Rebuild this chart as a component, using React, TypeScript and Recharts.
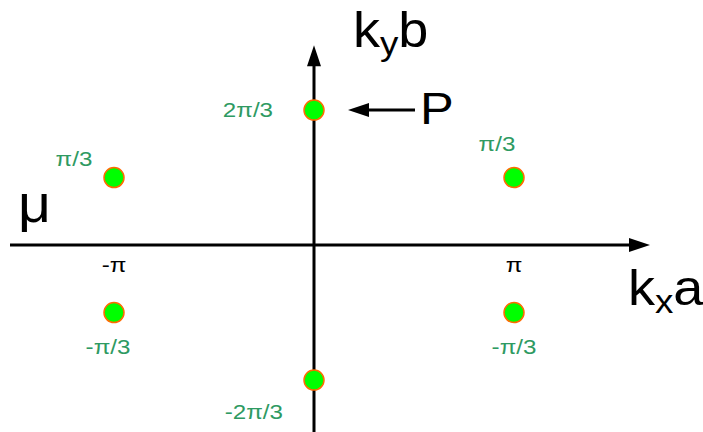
import { ScatterChart, Scatter, XAxis, YAxis, ReferenceLine } from "recharts";

// kx·a in units of π, ky·b in units of π/3
const pointX = [-1, 1, 0, -1, 1, 0];
const pointY = [1, 1, 2, -1, -1, -2];
const pointLabels = ["π/3", "π/3", "2π/3", "-π/3", "-π/3", "-2π/3"];

const tickX = [-1, 1];
const tickLabels = ["-π", "π"];

// label placement around each dot (px): dx, dy, anchor
const LABEL_POS: [number, number, "start" | "middle" | "end"][] = [
  [-40, -12, "middle"],
  [-17, -27, "middle"],
  [-41, 7, "end"],
  [-6, 41, "middle"],
  [0, 41, "middle"],
  [-31, 39, "end"],
];

const W = 703;
const H = 432;
const X_DOMAIN = [-1.57, 1.945];
const Y_DOMAIN = [-2.77, 3.63];
const GREEN = "#2e9a62";
const FONT = "'Liberation Sans', Arial, sans-serif";

const points = pointX.map((x, i) => ({ x, y: pointY[i], label: pointLabels[i], i }));
const ticks = tickX.map((x, i) => ({ x, y: 0, label: tickLabels[i] }));

// arrow heads: position of the tip and pointing direction
const arrows = [
  { x: 1.68, y: 0, dir: "right" },
  { x: 0, y: 2.96, dir: "up" },
  { x: 0.17, y: 2, dir: "left" },
];

const titles = [
  { x: 0.195, y: 2.93, kind: "kyb" },
  { x: 1.57, y: -0.89, kind: "kxa" },
  { x: -1.48, y: 0.34, kind: "mu" },
  { x: 0.53, y: 1.8, kind: "P" },
];

const Dot = (props: any) => {
  const { cx, cy, payload } = props;
  const [dx, dy, anchor] = LABEL_POS[payload.i];
  const tx = cx + dx;
  return (
    <g>
      <circle cx={cx} cy={cy} r={10} fill="#00ff00" stroke="#ff6a00" strokeWidth={1.5} />
      <g transform={`translate(${tx},${cy + dy}) scale(1.15,1)`}>
        <text x={0} y={0} textAnchor={anchor} fontSize={21} fill={GREEN} fontFamily={FONT}>
          {payload.label}
        </text>
      </g>
    </g>
  );
};

const Tick = (props: any) => {
  const { cx, cy, payload } = props;
  return (
    <g transform={`translate(${cx},${cy + 27}) scale(1.15,1)`}>
      <text x={0} y={0} textAnchor="middle" fontSize={21} fill="#000" fontFamily={FONT}>
        {payload.label}
      </text>
    </g>
  );
};

const Arrow = (props: any) => {
  const { cx, cy, payload } = props;
  const len = 21;
  const half = 7;
  let pts = "";
  if (payload.dir === "right") pts = `${cx},${cy} ${cx - len},${cy - half} ${cx - len},${cy + half}`;
  if (payload.dir === "up") pts = `${cx},${cy} ${cx - half},${cy + len} ${cx + half},${cy + len}`;
  if (payload.dir === "left") pts = `${cx},${cy} ${cx + len},${cy - half} ${cx + len},${cy + half}`;
  return <polygon points={pts} fill="#000" />;
};

const Title = (props: any) => {
  const { cx, cy, payload } = props;
  const k = payload.kind;
  if (k === "kyb" || k === "kxa") {
    const sub = k === "kyb" ? "y" : "x";
    const tail = k === "kyb" ? "b" : "a";
    return (
      <g transform={`translate(${cx},${cy}) scale(1.08,1)`}>
        <text x={0} y={0} fontSize={50} fill="#000" fontFamily={FONT}>
          k
          <tspan fontSize={34} dy={8}>{sub}</tspan>
          <tspan dy={-8}>{tail}</tspan>
        </text>
      </g>
    );
  }
  if (k === "mu") {
    return (
      <g transform={`translate(${cx},${cy}) scale(1.1,1)`}>
        <text x={0} y={0} fontSize={52} fill="#000" fontFamily={FONT}>μ</text>
      </g>
    );
  }
  return (
    <g transform={`translate(${cx},${cy}) scale(1.15,1)`}>
      <text x={0} y={0} fontSize={44} fill="#000" fontFamily={FONT}>P</text>
    </g>
  );
};

export default function App() {
  return (
    <div style={{ position: "absolute", left: 0, top: 0, background: "#fff" }}>
      <ScatterChart width={W} height={H} margin={{ top: 0, right: 0, bottom: 0, left: 0 }}>
        <XAxis type="number" dataKey="x" domain={X_DOMAIN} allowDataOverflow hide />
        <YAxis type="number" dataKey="y" domain={Y_DOMAIN} allowDataOverflow hide />

        {/* kx·a axis */}
        <ReferenceLine
          segment={[{ x: -1.52, y: 0 }, { x: 1.6, y: 0 }]}
          stroke="#000"
          strokeWidth={3}
        />
        {/* ky·b axis */}
        <ReferenceLine
          segment={[{ x: 0, y: -2.77 }, { x: 0, y: 2.7 }]}
          stroke="#000"
          strokeWidth={3}
        />
        {/* pointer to P */}
        <ReferenceLine
          segment={[{ x: 0.25, y: 2 }, { x: 0.505, y: 2 }]}
          stroke="#000"
          strokeWidth={3}
        />

        <Scatter data={arrows} shape={Arrow} isAnimationActive={false} />
        <Scatter data={ticks} shape={Tick} isAnimationActive={false} />
        <Scatter data={titles} shape={Title} isAnimationActive={false} />
        <Scatter data={points} shape={Dot} isAnimationActive={false} />
      </ScatterChart>
    </div>
  );
}
